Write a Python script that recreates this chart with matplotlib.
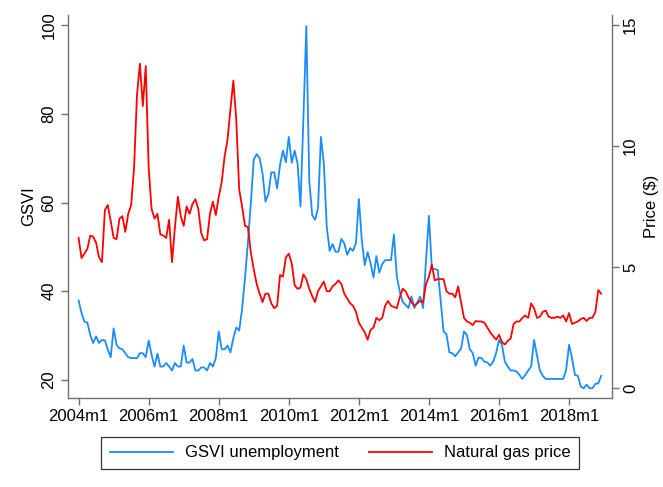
import numpy as np
import matplotlib
matplotlib.use("Agg")
from matplotlib import pyplot as plt

plt.rcParams['font.family'] = ['Liberation Sans', 'DejaVu Sans']
plt.rcParams['font.size'] = 12

# monthly series, 2004m1 .. 2018m12 (index 0 = 2004m1)
gsvi = [37.9, 35.1, 33.1, 32.9, 30.1, 28.3, 29.8, 28.3, 29.0, 28.9, 26.8, 25.1,
        31.6, 27.9, 27.1, 26.9, 26.0, 25.1, 24.9, 24.9, 24.9, 26.0, 26.0, 25.1,
        28.9, 25.6, 23.0, 25.9, 23.0, 23.0, 23.8, 23.0, 22.1, 23.8, 23.0, 23.0,
        27.7, 23.9, 23.9, 24.7, 22.1, 22.1, 22.8, 22.8, 22.1, 23.8, 23.0, 24.9,
        30.9, 26.9, 26.9, 27.7, 26.2, 29.4, 31.8, 31.1, 36.0, 43.0, 51.0, 60.0,
        69.7, 70.9, 70.0, 66.6, 60.2, 61.9, 66.8, 66.8, 63.2, 68.5, 71.7, 69.1,
        74.8, 69.0, 71.7, 68.8, 59.1, 79.0, 99.8, 65.1, 57.2, 56.1, 58.7, 74.8,
        68.8, 54.5, 49.1, 50.6, 48.9, 48.9, 51.8, 50.8, 48.2, 49.7, 49.1, 50.8,
        60.8, 51.5, 45.9, 48.8, 46.3, 43.1, 47.9, 44.2, 46.1, 47.0, 47.0, 47.0,
        52.8, 43.3, 39.9, 37.6, 36.9, 36.2, 38.8, 36.2, 37.5, 38.8, 36.2, 47.0,
        57.0, 45.0, 45.0, 44.8, 38.0, 30.9, 30.3, 26.2, 26.0, 25.3, 26.2, 27.0,
        30.9, 30.1, 26.9, 26.0, 23.2, 25.0, 24.9, 24.1, 23.9, 23.2, 24.1, 26.0,
        29.0, 27.9, 24.1, 23.0, 22.1, 22.1, 21.9, 21.1, 20.2, 21.1, 22.1, 23.0,
        29.0, 25.6, 22.1, 20.9, 20.2, 20.2, 20.2, 20.2, 20.2, 20.2, 20.2, 22.3,
        27.9, 24.9, 21.1, 20.9, 18.5, 18.1, 18.9, 18.1, 18.1, 19.1, 19.2, 20.9]

gas_price = [6.2, 5.37, 5.55, 5.75, 6.3, 6.25, 6.0, 5.4, 5.2, 7.35, 7.56, 6.9,
             6.2, 6.15, 7.0, 7.1, 6.45, 7.2, 7.56, 9.1, 12.1, 13.4, 11.65, 13.3,
             9.1, 7.4, 7.0, 7.2, 6.35, 6.3, 6.2, 6.95, 5.2, 6.65, 7.9, 7.1,
             6.7, 7.5, 7.2, 7.6, 7.8, 7.4, 6.4, 6.1, 6.15, 7.2, 7.7, 7.15,
             7.9, 8.5, 9.55, 10.25, 11.5, 12.7, 11.1, 8.2, 7.5, 6.7, 6.65, 5.6,
             4.9, 4.3, 3.9, 3.55, 3.9, 3.9, 3.5, 3.3, 3.4, 4.67, 4.6, 5.4,
             5.55, 5.15, 4.25, 4.1, 4.15, 4.7, 4.5, 4.1, 3.8, 3.55, 4.0, 4.2,
             4.4, 4.0, 4.0, 4.2, 4.3, 4.45, 4.3, 3.9, 3.7, 3.5, 3.4, 3.15,
             2.7, 2.5, 2.3, 2.0, 2.4, 2.5, 2.9, 2.8, 2.9, 3.4, 3.6, 3.4,
             3.35, 3.3, 3.75, 4.1, 4.0, 3.75, 3.55, 3.4, 3.5, 3.6, 3.55, 4.3,
             4.6, 5.1, 4.45, 4.5, 4.5, 4.5, 4.0, 3.9, 3.9, 3.75, 4.2, 3.55,
             2.9, 2.75, 2.7, 2.6, 2.77, 2.75, 2.75, 2.7, 2.5, 2.3, 2.15, 2.0,
             2.2, 1.9, 1.8, 1.95, 2.05, 2.65, 2.75, 2.75, 2.9, 3.0, 2.9, 3.5,
             3.3, 2.9, 2.95, 3.15, 3.2, 2.95, 2.9, 2.9, 2.95, 2.9, 3.0, 2.75,
             3.1, 2.65, 2.7, 2.75, 2.85, 2.9, 2.77, 2.9, 2.9, 3.15, 4.05, 3.9]

months = np.arange(len(gsvi))
tick_pos = np.arange(0, 180, 24)
tick_labels = ['%dm1' % (2004 + p // 12) for p in tick_pos]

W, H = 663, 487
fig = plt.figure(figsize=(W / 100, H / 100), dpi=100)
# plot region in pixels: left 67.5, right 612, top 15, bottom 398
ax = fig.add_axes([67.5 / W, 1 - 398 / H, (612 - 67.5) / W, (398 - 15) / H])
ax2 = ax.twinx()

l1, = ax.plot(months, gsvi, color='#1a8cff', lw=1.3, label='GSVI unemployment')
l2, = ax2.plot(months, gas_price, color='#ff0000', lw=1.3, label='Natural gas price')

ax.set_xlim(-3.8, 182.7)
ax.set_ylim(15.9, 102.3)
ax2.set_ylim(-0.41, 15.41)

ax.set_xticks(tick_pos)
ax.set_xticklabels(tick_labels)
ax.set_yticks([20, 40, 60, 80, 100])
ax2.set_yticks([0, 5, 10, 15])
for lab in ax.get_yticklabels():
    lab.set_rotation(90)
    lab.set_va('center')
for lab in ax2.get_yticklabels():
    lab.set_rotation(90)
    lab.set_va('center')

ax.set_ylabel('GSVI', labelpad=4)
ax2.set_ylabel('Price ($)', labelpad=4)

spine_col = '#707070'
for a in (ax, ax2):
    a.spines['top'].set_visible(False)
    for s in ('left', 'right', 'bottom'):
        a.spines[s].set_color(spine_col)
        a.spines[s].set_linewidth(1.0)
    a.tick_params(direction='out', length=5, width=1, color=spine_col,
                  labelsize=12, pad=3)
ax.spines['right'].set_visible(False)
ax2.spines['left'].set_visible(False)
ax2.spines['bottom'].set_visible(False)

leg = fig.legend([l1, l2], ['GSVI unemployment', 'Natural gas price'],
                 loc='center', bbox_to_anchor=(340 / W, 1 - 453 / H),
                 ncol=2, frameon=True, fancybox=False, framealpha=1,
                 edgecolor='#333333', handlelength=3.8, handletextpad=0.7,
                 columnspacing=1.8, borderpad=0.5, fontsize=12)
leg.get_frame().set_linewidth(0.9)

fig.savefig('out.png', dpi=100)
